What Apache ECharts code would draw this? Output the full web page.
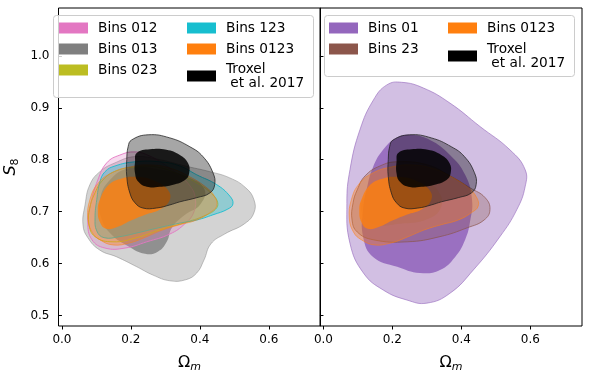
<!DOCTYPE html>
<html lang="en">

<head>
    <meta charset="UTF-8">
    <title>S8 - Omega_m contours</title>
    <style>
        * {
            margin: 0;
            padding: 0;
        }

        html,
        body {
            width: 590px;
            height: 380px;
            background: #fff;
        }

        .box {
            width: 590px;
            height: 380px;
        }
    </style>
</head>

<body>
    <div class="box"></div>
</body>
<script src="https://cdn.jsdelivr.net/npm/echarts@6/dist/echarts.min.js"></script>
<script>
    // tick values
    const xTicks = [0, 0.2, 0.4, 0.6]
    const yTicks = [0.5, 0.6, 0.7, 0.8, 0.9, 1.0]

    // contours [Omega_m, S8] (95% = outer, 68% = inner)
    const troxel95 = [[0.202, 0.838], [0.250, 0.848], [0.313, 0.842], [0.371, 0.825], [0.409, 0.806], [0.438, 0.775], [0.443, 0.752], [0.429, 0.736], [0.391, 0.727], [0.342, 0.719], [0.313, 0.713], [0.274, 0.707], [0.235, 0.707], [0.212, 0.717], [0.197, 0.736], [0.188, 0.768], [0.188, 0.800], [0.192, 0.825]]
    const troxel68 = [[0.217, 0.813], [0.255, 0.820], [0.303, 0.819], [0.342, 0.809], [0.366, 0.793], [0.369, 0.774], [0.357, 0.761], [0.323, 0.752], [0.284, 0.748], [0.246, 0.748], [0.221, 0.758], [0.212, 0.774], [0.212, 0.796]]
    const bins013_95 = [[0.081, 0.752], [0.110, 0.777], [0.154, 0.794], [0.212, 0.806], [0.284, 0.800], [0.357, 0.788], [0.429, 0.777], [0.487, 0.765], [0.533, 0.746], [0.557, 0.723], [0.557, 0.698], [0.530, 0.677], [0.472, 0.657], [0.432, 0.638], [0.412, 0.607], [0.391, 0.582], [0.359, 0.569], [0.313, 0.567], [0.264, 0.578], [0.217, 0.594], [0.159, 0.613], [0.110, 0.626], [0.075, 0.650], [0.061, 0.675], [0.067, 0.713]]
    const bins013_68 = [[0.110, 0.723], [0.139, 0.761], [0.197, 0.784], [0.284, 0.781], [0.371, 0.765], [0.414, 0.742], [0.400, 0.713], [0.357, 0.694], [0.319, 0.669], [0.304, 0.642], [0.278, 0.623], [0.241, 0.619], [0.191, 0.634], [0.145, 0.655], [0.116, 0.684]]
    const bins0123_95 = [[0.081, 0.723], [0.104, 0.754], [0.145, 0.775], [0.197, 0.786], [0.255, 0.790], [0.313, 0.784], [0.371, 0.767], [0.420, 0.746], [0.443, 0.729], [0.449, 0.711], [0.429, 0.698], [0.391, 0.684], [0.342, 0.675], [0.293, 0.665], [0.246, 0.652], [0.197, 0.640], [0.148, 0.636], [0.110, 0.646], [0.087, 0.661], [0.075, 0.688]]
    const bins0123_68 = [[0.110, 0.723], [0.133, 0.750], [0.168, 0.763], [0.217, 0.767], [0.270, 0.759], [0.307, 0.742], [0.313, 0.723], [0.284, 0.704], [0.241, 0.694], [0.197, 0.682], [0.162, 0.671], [0.128, 0.667], [0.110, 0.680], [0.104, 0.703]]
    const bins012_95 = [[0.104, 0.761], [0.130, 0.794], [0.168, 0.809], [0.212, 0.815], [0.255, 0.807], [0.299, 0.790], [0.342, 0.769], [0.371, 0.750], [0.386, 0.729], [0.383, 0.700], [0.357, 0.677], [0.313, 0.657], [0.246, 0.642], [0.183, 0.630], [0.125, 0.630], [0.087, 0.646], [0.075, 0.680], [0.084, 0.717]]
    const bins023_95 = [[0.093, 0.732], [0.119, 0.761], [0.159, 0.779], [0.217, 0.786], [0.275, 0.786], [0.342, 0.771], [0.400, 0.752], [0.438, 0.732], [0.452, 0.717], [0.446, 0.705], [0.420, 0.694], [0.362, 0.680], [0.293, 0.667], [0.217, 0.650], [0.148, 0.642], [0.096, 0.652], [0.078, 0.677], [0.081, 0.707]]
    const bins123_95 = [[0.110, 0.757], [0.125, 0.777], [0.154, 0.788], [0.212, 0.796], [0.284, 0.796], [0.342, 0.788], [0.391, 0.771], [0.449, 0.752], [0.487, 0.730], [0.496, 0.715], [0.481, 0.705], [0.438, 0.694], [0.391, 0.684], [0.342, 0.678], [0.293, 0.671], [0.217, 0.659], [0.168, 0.652], [0.122, 0.650], [0.101, 0.663], [0.096, 0.688], [0.101, 0.723]]
    const bins01_95 = [[0.184, 0.944], [0.227, 0.949], [0.290, 0.938], [0.367, 0.909], [0.454, 0.864], [0.541, 0.819], [0.585, 0.781], [0.585, 0.748], [0.561, 0.704], [0.512, 0.652], [0.435, 0.588], [0.367, 0.543], [0.300, 0.524], [0.242, 0.530], [0.174, 0.549], [0.116, 0.582], [0.077, 0.639], [0.068, 0.716], [0.077, 0.781], [0.106, 0.858], [0.145, 0.915]]
    const bins01_68 = [[0.251, 0.848], [0.309, 0.838], [0.367, 0.809], [0.411, 0.771], [0.431, 0.723], [0.425, 0.680], [0.411, 0.646], [0.382, 0.613], [0.338, 0.588], [0.280, 0.582], [0.214, 0.594], [0.144, 0.613], [0.115, 0.652], [0.115, 0.704], [0.127, 0.748], [0.144, 0.786], [0.173, 0.819], [0.211, 0.842]]
    const bins23_95 = [[0.098, 0.742], [0.121, 0.769], [0.164, 0.788], [0.214, 0.796], [0.301, 0.790], [0.367, 0.769], [0.425, 0.746], [0.469, 0.727], [0.483, 0.704], [0.466, 0.684], [0.417, 0.669], [0.338, 0.652], [0.243, 0.642], [0.144, 0.646], [0.098, 0.661], [0.083, 0.684], [0.086, 0.717]]
    const bins23_68 = [[0.121, 0.734], [0.164, 0.757], [0.222, 0.767], [0.295, 0.759], [0.338, 0.734], [0.338, 0.704], [0.295, 0.684], [0.222, 0.677], [0.150, 0.675], [0.112, 0.694]]

    const TROXEL = 'Troxel\n et al. 2017'
    const font = 'DejaVu Sans'

    let chart = echarts.init(document.querySelector('.box'))

    // one filled contour as a custom series, points go through the axis scales
    function contour(name, pts, panel, color, fill, stroke, z) {
        return {
            type: 'custom',
            name: name,
            xAxisIndex: panel,
            yAxisIndex: panel,
            z: z,
            silent: true,
            animation: false,
            itemStyle: { color: color },
            data: pts,
            renderItem: function (params, api) {
                if (params.dataIndex !== 0) return
                let points = pts.map(function (p) { return api.coord(p) })
                return {
                    type: 'polygon',
                    shape: { points: points, smooth: 0.45 },
                    style: {
                        fill: fill,
                        stroke: stroke || null,
                        lineWidth: stroke ? 1 : 0
                    }
                }
            }
        }
    }

    function xAxis(i) {
        return {
            type: 'value', gridIndex: i, min: -0.01, max: 0.75,
            splitLine: { show: false },
            axisLine: { show: false },
            axisTick: { show: true, length: 3.5, lineStyle: { color: '#000' }, customValues: xTicks },
            axisLabel: {
                color: '#000', fontSize: 12, fontFamily: font, margin: 8,
                customValues: xTicks,
                formatter: function (v) { return v.toFixed(1) }
            },
            name: '{o|Ω}{m|m}',
            nameLocation: 'middle',
            nameGap: 27,
            nameTextStyle: {
                rich: {
                    o: { fontSize: 16, fontFamily: font, color: '#000' },
                    m: { fontSize: 11, fontFamily: font, fontStyle: 'italic', color: '#000', padding: [9, 0, 0, 0] }
                }
            }
        }
    }

    function yAxis(i) {
        let ax = {
            type: 'value', gridIndex: i, min: 0.48, max: 1.092,
            splitLine: { show: false },
            axisLine: { show: false },
            axisTick: { show: true, length: 3.5, lineStyle: { color: '#000' }, customValues: yTicks },
            axisLabel: {
                show: i === 0,
                color: '#000', fontSize: 12, fontFamily: font, margin: 9,
                customValues: yTicks,
                formatter: function (v) { return v.toFixed(1) }
            }
        }
        if (i === 0) {
            ax.name = '{s|S}{n|8}'
            ax.nameLocation = 'middle'
            ax.nameRotate = 90
            ax.nameGap = 38
            ax.nameTextStyle = {
                rich: {
                    s: { fontSize: 16, fontFamily: font, fontStyle: 'italic', color: '#000' },
                    n: { fontSize: 11, fontFamily: font, color: '#000', padding: [9, 0, 0, 0] }
                }
            }
        }
        return ax
    }

    function legend(names, colors, left, top) {
        return {
            orient: 'vertical',
            left: left,
            top: top,
            padding: 0,
            itemGap: 7,
            itemWidth: 29,
            itemHeight: 11,
            icon: 'rect',
            selectedMode: false,
            textStyle: { fontSize: 13.7, fontFamily: font, color: '#000', lineHeight: 14, padding: [0, 0, 0, 5] },
            data: names.map(function (n, k) { return { name: n, itemStyle: { color: colors[k] } } })
        }
    }

    const series = [
        // left panel
        contour('Bins 013', bins013_95, 0, '#7f7f7f', 'rgba(127,127,127,0.34)', 'rgba(127,127,127,0.45)', 2),
        contour('Bins 013', bins013_68, 0, '#7f7f7f', 'rgba(127,127,127,0.8)', null, 2),
        contour('Bins 012', bins012_95, 0, '#e377c2', 'rgba(227,119,194,0.28)', 'rgba(227,119,194,0.9)', 3),
        contour('Bins 023', bins023_95, 0, '#bcbd22', 'rgba(188,189,34,0.12)', 'rgba(188,189,34,0.9)', 3),
        contour('Bins 123', bins123_95, 0, '#17becf', 'rgba(23,190,207,0.35)', 'rgba(23,190,207,0.9)', 3),
        contour('Bins 0123', bins0123_95, 0, '#ff7f0e', 'rgba(255,127,14,0.35)', 'rgba(255,127,14,0.5)', 4),
        contour('Bins 0123', bins0123_68, 0, '#ff7f0e', 'rgba(255,127,14,0.8)', null, 4),
        contour(TROXEL, troxel95, 0, '#000', 'rgba(0,0,0,0.35)', 'rgba(30,30,30,0.75)', 5),
        contour(TROXEL, troxel68, 0, '#000', 'rgba(0,0,0,0.85)', null, 5),
        // right panel
        contour('Bins 01', bins01_95, 1, '#9467bd', 'rgba(148,103,189,0.42)', 'rgba(148,103,189,0.6)', 2),
        contour('Bins 01', bins01_68, 1, '#9467bd', 'rgba(148,103,189,0.9)', null, 2),
        contour('Bins 23', bins23_95, 1, '#8c564b', 'rgba(140,86,75,0.3)', 'rgba(140,86,75,0.7)', 3),
        contour('Bins 23', bins23_68, 1, '#8c564b', 'rgba(140,86,75,0.2)', null, 3),
        contour('Bins 0123', bins0123_95, 1, '#ff7f0e', 'rgba(255,127,14,0.35)', 'rgba(255,127,14,0.5)', 4),
        contour('Bins 0123', bins0123_68, 1, '#ff7f0e', 'rgba(255,127,14,0.8)', null, 4),
        contour(TROXEL, troxel95, 1, '#000', 'rgba(0,0,0,0.35)', 'rgba(30,30,30,0.75)', 5),
        contour(TROXEL, troxel68, 1, '#000', 'rgba(0,0,0,0.85)', null, 5)
    ]

    const option = {
        backgroundColor: '#fff',
        animation: false,
        grid: [
            { left: 58.5, top: 8, width: 262, height: 318, show: true, borderColor: '#000', borderWidth: 1 },
            { left: 320, top: 8, width: 262, height: 318, show: true, borderColor: '#000', borderWidth: 1 }
        ],
        xAxis: [xAxis(0), xAxis(1)],
        yAxis: [yAxis(0), yAxis(1)],
        legend: [
            legend(['Bins 012', 'Bins 013', 'Bins 023'], ['#e377c2', '#7f7f7f', '#bcbd22'], 59, 21),
            legend(['Bins 123', 'Bins 0123'], ['#17becf', '#ff7f0e'], 187, 21),
            legend([TROXEL], ['#000'], 187, 62),
            legend(['Bins 01', 'Bins 23'], ['#9467bd', '#8c564b'], 329, 21),
            legend(['Bins 0123'], ['#ff7f0e'], 448, 21),
            legend([TROXEL], ['#000'], 448, 42)
        ],
        graphic: [
            { type: 'rect', z: 3, shape: { x: 53.5, y: 15.5, width: 260, height: 82, r: 3 }, style: { fill: 'rgba(255,255,255,0.8)', stroke: '#ccc', lineWidth: 1 } },
            { type: 'rect', z: 3, shape: { x: 324.5, y: 15.5, width: 250, height: 61, r: 3 }, style: { fill: 'rgba(255,255,255,0.8)', stroke: '#ccc', lineWidth: 1 } }
        ],
        series: series
    }
    chart.setOption(option)
</script>

</html>
